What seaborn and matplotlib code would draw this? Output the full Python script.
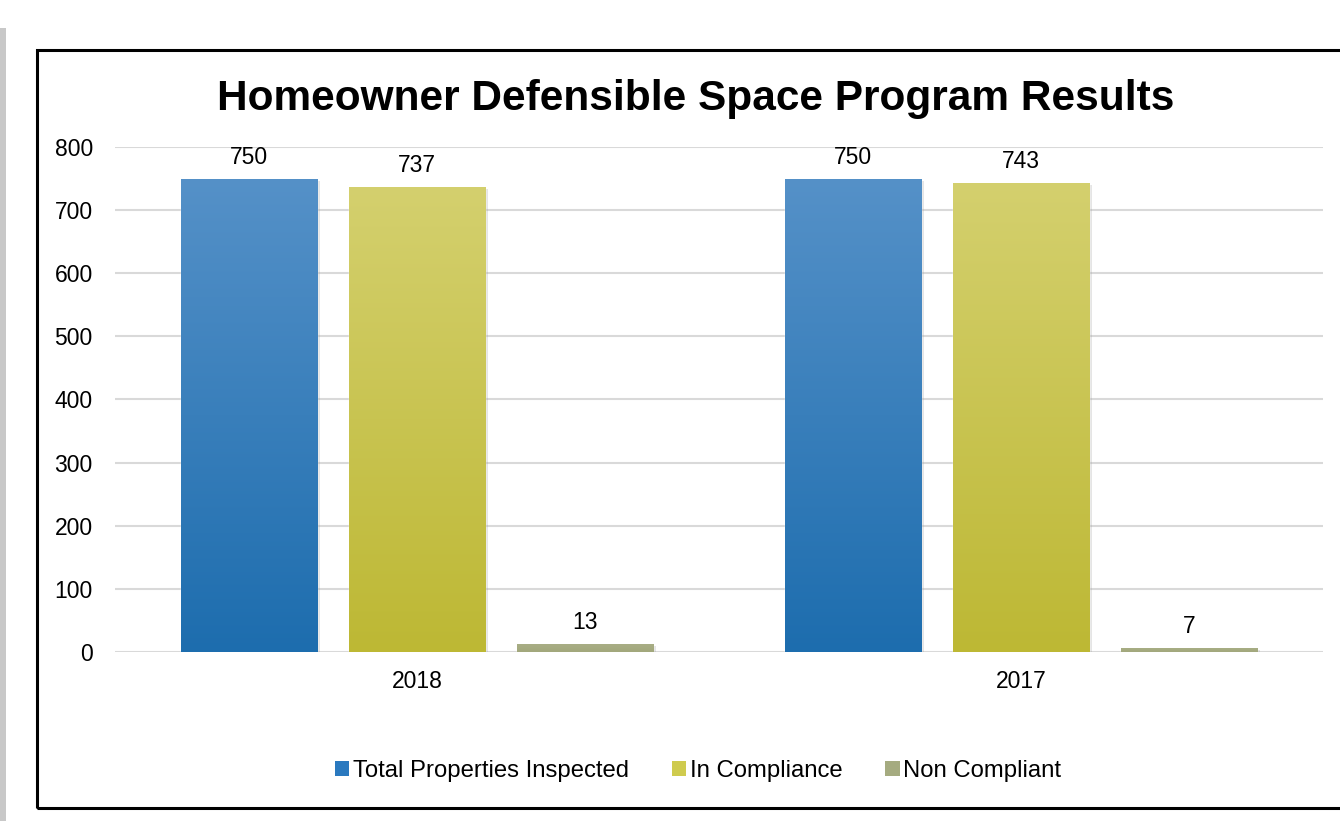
import numpy as np
import pandas as pd
import seaborn as sns
import matplotlib.pyplot as plt
from matplotlib import font_manager as fm
from matplotlib.patches import Rectangle, Patch
from matplotlib.colors import LinearSegmentedColormap
import matplotlib.patheffects as pe

# --- Data ---
years = ["2018", "2017"]
series = ["Total Properties Inspected", "In Compliance", "Non Compliant"]
total_inspected = [750, 750]
in_compliance = [737, 743]
non_compliant = [13, 7]

df = pd.DataFrame({
    "Year": years * 3,
    "Series": [s for s in series for _ in years],
    "Count": total_inspected + in_compliance + non_compliant,
})

# top / bottom colours of each gradient
grad = {
    "Total Properties Inspected": ("#5591c8", "#1d6dae"),
    "In Compliance": ("#d4d06e", "#bdb834"),
    "Non Compliant": ("#a9ae86", "#a2a87c"),
}
legend_cols = ["#2a79bf", "#cfcb4e", "#a5ab80"]

# --- Plotting ---
sns.set_theme(style="white")
# keep the normal-width Liberation Sans (skip the Narrow cut)
fm.fontManager.ttflist = [f for f in fm.fontManager.ttflist if "Narrow" not in f.fname]
plt.rcParams["font.family"] = ["Liberation Sans", "DejaVu Sans"]
plt.rcParams["text.color"] = "black"

W, H = 1340, 821
fig = plt.figure(figsize=(W / 100, H / 100), dpi=100)

# gray strip at the left and black frame
fig.patches.append(Rectangle((0, 0), 6 / W, 1 - 28 / H, transform=fig.transFigure,
                             facecolor="#c8c8c8", edgecolor="none"))
fig.patches.append(Rectangle((37 / W, 1 - 808 / H), 1.0, (808 - 50) / H,
                             transform=fig.transFigure, facecolor="none",
                             edgecolor="black", linewidth=2.2))

ax = fig.add_axes([115 / W, 1 - 652 / H, (1323 - 115) / W, (652 - 147) / H])

sns.barplot(ax=ax, data=df, x="Year", y="Count", hue="Series", hue_order=series,
            palette=[grad[s][0] for s in series], width=0.834, gap=0.19,
            legend=False, saturation=1)

ax.yaxis.grid(True, color="#d9d9d9", linewidth=1.5)
ax.set_axisbelow(True)
for s in ax.spines.values():
    s.set_visible(False)
ax.tick_params(axis="both", length=0, labelsize=16.5, colors="black")
ax.tick_params(axis="y", pad=16)
ax.tick_params(axis="x", pad=13)
ax.set_xlabel("")
ax.set_ylabel("")

# gradient fill + shadow on each bar
for cont, name in zip(ax.containers, series):
    top, bot = grad[name]
    cmap = LinearSegmentedColormap.from_list(name, [bot, top])
    for p in cont.patches:
        x0, w, h = p.get_x(), p.get_width(), p.get_height()
        p.set_path_effects([pe.SimplePatchShadow(offset=(2, -1.5), shadow_rgbFace="#999999", alpha=0.25),
                            pe.Normal()])
        img = ax.imshow(np.linspace(0, 1, 256).reshape(-1, 1), cmap=cmap, origin="lower",
                        extent=[x0, x0 + w, 0, h], aspect="auto", zorder=p.get_zorder() + 0.1)
        img.set_clip_path(p)
    ax.bar_label(cont, fmt="%.0f", padding=7, fontsize=16.5)

ax.set_xlim(-0.5, 1.5)
ax.set_ylim(0, 800)
ax.set_yticks(range(0, 801, 100))

fig.text(696 / W, 1 - 99 / H, "Homeowner Defensible Space Program Results",
         ha="center", va="center", fontsize=30.5, fontweight="bold")

handles = [Patch(facecolor=c, edgecolor="none") for c in legend_cols]
fig.legend(handles, series, loc="center", bbox_to_anchor=(698 / W, 1 - 771 / H),
           ncol=3, frameon=False, fontsize=17.2, handlelength=0.6, handleheight=0.6,
           handletextpad=0.15, columnspacing=1.8)

fig.savefig("out.png", dpi=100)
